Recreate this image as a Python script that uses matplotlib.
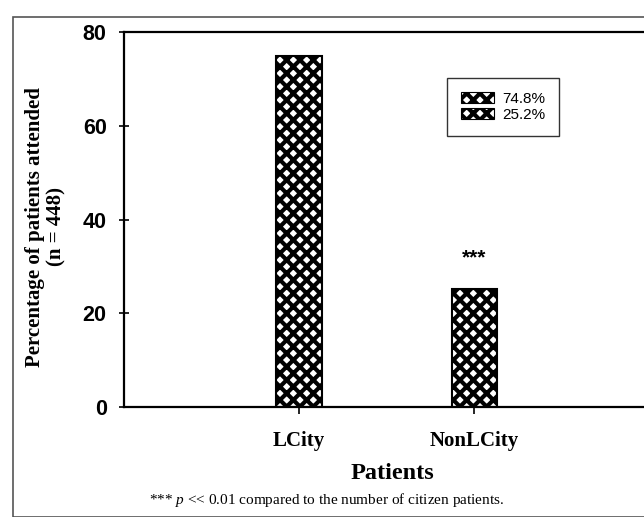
import matplotlib.pyplot as plt
import matplotlib.patches as mpatches

# data
categories = ["LCity", "NonLCity"]
percentages = [74.8, 25.2]
legend_labels = ["74.8%", "25.2%"]
yticks = [0, 20, 40, 60, 80]

# lower dpi makes the hatch finer; S keeps sizes in pixels the same as at 100 dpi
DPI = 80
S = 100 / DPI

plt.rcParams['hatch.linewidth'] = 3.0 * S
plt.rcParams['hatch.color'] = 'black'
plt.rcParams['mathtext.fontset'] = 'custom'
plt.rcParams['mathtext.it'] = 'Liberation Serif:italic'
plt.rcParams['mathtext.rm'] = 'Liberation Serif'

W, H = 644, 517
fig = plt.figure(figsize=(W / DPI, H / DPI), dpi=DPI)

# outer gray frame
fig.patches.append(mpatches.Rectangle((13 / W, 0), 1, 1 - 17 / H, transform=fig.transFigure,
                                      fill=False, edgecolor='#555555', linewidth=1.2 * S))

# axes box: left 124, top 32, bottom 407, right beyond the image
ax = fig.add_axes([124 / W, 1 - 407 / H, (660 - 124) / W, (407 - 32) / H])
x = list(range(len(categories)))
ax.bar(x, percentages, width=0.26, color='white', edgecolor='black', hatch='xx', linewidth=1.5 * S)

ax.set_xlim(-1.0, 2.06)
ax.set_ylim(0, 80)
ax.set_yticks(yticks)
ax.set_xticks(x)
ax.set_xticklabels(categories, fontfamily='Liberation Serif', fontweight='bold', fontsize=15 * S)
for lab in ax.get_yticklabels():
    lab.set_fontfamily('Liberation Sans')
    lab.set_fontweight('bold')
    lab.set_fontsize(15.5 * S)

for s in ['left', 'bottom', 'top']:
    ax.spines[s].set_linewidth(1.6 * S)
ax.spines['right'].set_visible(False)
ax.tick_params(axis='y', direction='inout', length=7 * S, width=1.2 * S, pad=9 * S)
ax.tick_params(axis='x', direction='out', length=5 * S, width=1.2 * S, pad=12 * S)

ax.text(1, 31.8, "***", ha='center', va='center', fontfamily='Liberation Sans', fontweight='bold',
        fontsize=15 * S)

ax.set_xlabel("Patients", fontfamily='Liberation Serif', fontweight='bold', fontsize=17.5 * S, labelpad=9 * S)
fig.text(46 / W, 1 - 227 / H, "Percentage of patients attended\n(n = 448)", rotation=90,
         ha='center', va='center', fontfamily='Liberation Serif', fontweight='bold',
         fontsize=15 * S, linespacing=1.1)

fig.text(327 / W, 1 - 500 / H, r"*** $p$ << 0.01 compared to the number of citizen patients.",
         ha='center', va='center', fontfamily='Liberation Serif', fontsize=11 * S)

handles = [mpatches.Patch(facecolor='white', edgecolor='black', hatch='xx') for _ in legend_labels]
leg = ax.legend(handles, legend_labels, loc='upper left', bbox_to_anchor=((447 - 124) / 536, 1 - (78 - 32) / 375),
                frameon=True, fancybox=False, edgecolor='black', prop={'family': 'Liberation Sans', 'size': 11 * S},
                handlelength=2.2, handleheight=0.7, borderpad=0.9, labelspacing=0.15, handletextpad=0.5,
                borderaxespad=0)
leg.get_frame().set_linewidth(1.0 * S)

fig.savefig("out.png", dpi=DPI)
